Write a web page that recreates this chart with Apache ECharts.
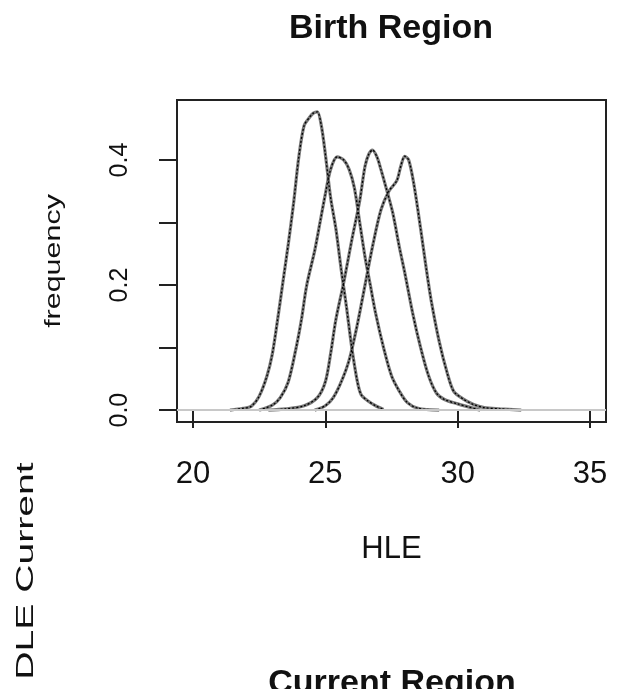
<!DOCTYPE html>
<html><head><meta charset="utf-8">
<script src="https://cdn.jsdelivr.net/npm/echarts@6/dist/echarts.min.js"></script>
<style>html,body{margin:0;padding:0;background:#fff}#c{width:618px;height:689px}</style>
</head><body><div id="c"></div>
<script>
// ---- data ----
const topTitle = 'Birth Region';
const bottomTitle = 'Current Region';
const xName = 'HLE';
const yName = 'frequency';
const sideLabel = 'DLE Current';
const xTicks = [20, 25, 30, 35];
const yTicks = [0, 0.1, 0.2, 0.3, 0.4];
const yLabels = [0, 0.2, 0.4];

const curveA = [[21.4,0],[21.9,0.003],[22.2,0.006],[22.5,0.022],[22.8,0.055],[23.0,0.09],[23.2,0.145],[23.4,0.205],[23.6,0.265],[23.8,0.33],[24.0,0.405],[24.2,0.455],[24.4,0.468],[24.55,0.475],[24.7,0.477],[24.85,0.455],[25.0,0.41],[25.2,0.34],[25.4,0.29],[25.6,0.225],[25.8,0.165],[26.0,0.1],[26.2,0.048],[26.35,0.025],[26.6,0.015],[26.9,0.007],[27.2,0.001]];
const curveB = [[22.5,0],[23.0,0.008],[23.3,0.02],[23.6,0.045],[23.9,0.1],[24.1,0.145],[24.3,0.2],[24.6,0.255],[24.8,0.3],[25.0,0.345],[25.2,0.385],[25.45,0.405],[25.7,0.4],[25.9,0.385],[26.1,0.355],[26.3,0.3],[26.5,0.245],[26.7,0.2],[26.9,0.155],[27.2,0.1],[27.5,0.055],[27.8,0.03],[28.1,0.012],[28.5,0.003],[29.3,0]];
const curveC = [[22.85,0],[23.5,0.002],[24.2,0.007],[24.7,0.02],[25.0,0.045],[25.2,0.09],[25.4,0.145],[25.7,0.205],[26.0,0.272],[26.3,0.335],[26.5,0.39],[26.65,0.41],[26.78,0.416],[26.95,0.405],[27.1,0.385],[27.3,0.355],[27.55,0.315],[27.8,0.26],[28.0,0.22],[28.3,0.155],[28.6,0.1],[28.9,0.055],[29.2,0.027],[29.5,0.017],[30.0,0.01],[30.85,0]];
const curveD = [[24.6,0],[25.0,0.007],[25.3,0.02],[25.6,0.045],[25.9,0.08],[26.2,0.135],[26.5,0.2],[26.8,0.265],[27.1,0.32],[27.4,0.35],[27.7,0.367],[27.85,0.39],[28.0,0.406],[28.15,0.4],[28.35,0.36],[28.6,0.29],[28.8,0.23],[29.0,0.175],[29.3,0.11],[29.6,0.06],[29.85,0.03],[30.2,0.018],[30.6,0.009],[31.0,0.004],[31.6,0.002],[32.4,0]];
const curves = [curveA, curveB, curveC, curveD];

// ---- chart ----
const FF = '"Liberation Sans", Arial, sans-serif';
const chart = echarts.init(document.getElementById('c'), null, {renderer: 'canvas'});

const series = [{
  type: 'line', data: [], z: 1, silent: true,
  markLine: {
    silent: true, symbol: ['none', 'none'], label: {show: false},
    lineStyle: {color: '#c8c8c8', width: 2, type: 'solid'},
    emphasis: {disabled: true},
    data: [{yAxis: 0}]
  }
}];
curves.forEach(function (c) {
  series.push({type: 'line', data: c, symbol: 'none', smooth: 0.3, z: 2, silent: true,
    lineStyle: {color: '#7a7a7a', width: 3.2}});
  series.push({type: 'line', data: c, symbol: 'none', smooth: 0.3, z: 3, silent: true,
    lineStyle: {color: '#000', width: 1.3, type: [2, 2]}});
});

chart.setOption({
  animation: false,
  backgroundColor: '#fff',
  grid: {left: 177, top: 100, width: 429, height: 322, show: true, borderColor: '#222', borderWidth: 2,
    containLabel: false, outerBoundsMode: 'none'},
  xAxis: {
    type: 'value', min: 19.4, max: 35.6,
    splitLine: {show: false}, axisLine: {show: false},
    axisTick: {show: true, inside: false, length: 18, lineStyle: {color: '#222', width: 2}, customValues: xTicks},
    axisLabel: {customValues: xTicks, fontSize: 31, color: '#111', margin: 37, fontFamily: FF},
    name: xName, nameLocation: 'middle', nameGap: 112,
    nameTextStyle: {fontSize: 31, color: '#111', fontFamily: FF}
  },
  yAxis: {
    type: 'value', min: -0.019, max: 0.496,
    splitLine: {show: false}, axisLine: {show: false},
    axisTick: {show: true, inside: false, length: 18, lineStyle: {color: '#222', width: 2}, customValues: yTicks},
    axisLabel: {customValues: yLabels, rotate: 90, fontSize: 25, color: '#111', margin: 44, fontFamily: FF,
      formatter: function (v) { return Number(v).toFixed(1); }}
  },
  graphic: [
    {type: 'text', x: 391, y: 29, style: {text: topTitle, font: 'bold 34px ' + FF, fill: '#111',
      textAlign: 'center', textVerticalAlign: 'middle', align: 'center', verticalAlign: 'middle'}},
    {type: 'text', x: 392, y: 684, style: {text: bottomTitle, font: 'bold 34px ' + FF, fill: '#111',
      textAlign: 'center', textVerticalAlign: 'middle', align: 'center', verticalAlign: 'middle'}},
    {type: 'text', x: 54, y: 261, rotation: Math.PI / 2, scaleX: 1.45, scaleY: 1.05,
      style: {text: yName, font: '21px ' + FF, fill: '#111',
      textAlign: 'center', textVerticalAlign: 'middle', align: 'center', verticalAlign: 'middle'}},
    {type: 'text', x: 26, y: 571, rotation: Math.PI / 2, scaleX: 1.63, scaleY: 1,
      style: {text: sideLabel, font: '24px ' + FF, fill: '#111',
      textAlign: 'center', textVerticalAlign: 'middle', align: 'center', verticalAlign: 'middle'}}
  ],
  series: series
});
</script></body></html>
